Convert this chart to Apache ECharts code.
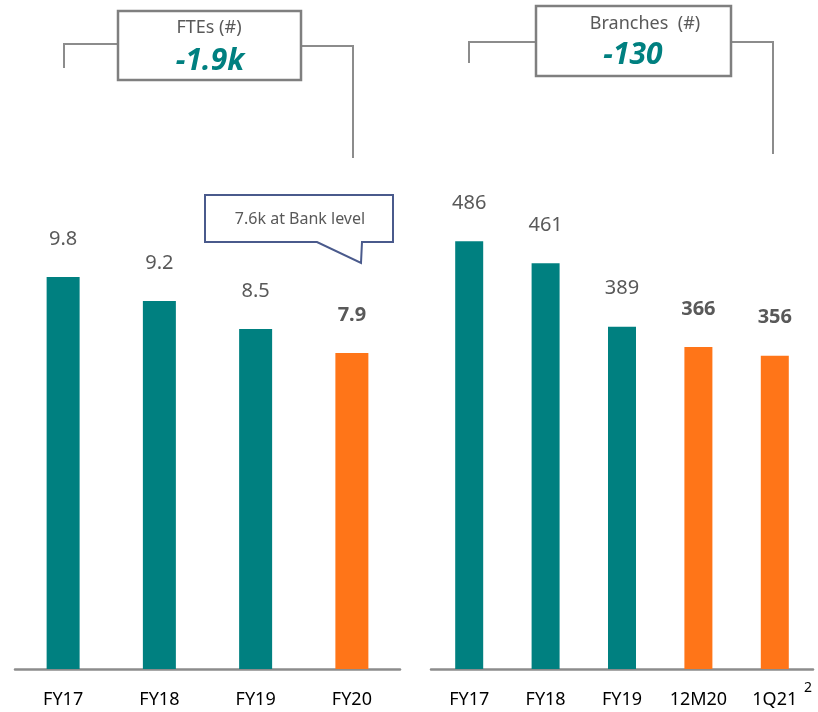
<!DOCTYPE html>
<html>
<head>
<meta charset="utf-8">
<script src="https://cdn.jsdelivr.net/npm/echarts@6/dist/echarts.min.js"></script>
<style>
html,body{margin:0;padding:0;background:#fff;}
#chart{width:818px;height:712px;}
</style>
</head>
<body>
<div id="chart"></div>
<script>
// ---- data ----
const fteCategories = ['FY17', 'FY18', 'FY19', 'FY20'];
const fteValues = [9.8, 9.2, 8.5, 7.9];
const fteHighlight = [false, false, false, true];

const branchCategories = ['FY17', 'FY18', 'FY19', '12M20', '1Q21'];
const branchValues = [486, 461, 389, 366, 356];
const branchHighlight = [false, false, false, true, true];

const fteTitle = 'FTEs (#)';
const fteDelta = '-1.9k';
const branchTitle = 'Branches  (#)';
const branchDelta = '-130';
const calloutText = '7.6k at Bank level';
const footnoteMark = '2';

// ---- style ----
const TEAL = '#008080';
const ORANGE = '#FF7518';
const GREY_TXT = '#595959';
const FONT = '"Noto Sans", "Open Sans", sans-serif';

function buildData(values, highlight) {
  return values.map((v, i) => ({
    value: v,
    itemStyle: { color: highlight[i] ? ORANGE : TEAL },
    label: { fontWeight: highlight[i] ? 'bold' : 'normal' }
  }));
}

const chart = echarts.init(document.getElementById('chart'));

const axisCommon = {
  type: 'category',
  axisLine: { show: true, lineStyle: { color: '#8c8c8c', width: 2.5 } },
  axisTick: { show: false },
  axisLabel: { color: '#000', fontSize: 18, fontFamily: FONT, margin: 22, interval: 0 }
};

const labelCommon = {
  show: true,
  position: 'top',
  distance: 28,
  color: GREY_TXT,
  fontSize: 20,
  fontFamily: FONT
};

const option = {
  animation: false,
  backgroundColor: '#fff',
  grid: [
    { left: 15, width: 385, top: 189, bottom: 43 },
    { left: 431, width: 382, top: 229, bottom: 43 }
  ],
  xAxis: [
    Object.assign({ gridIndex: 0, data: fteCategories }, axisCommon),
    Object.assign({ gridIndex: 1, data: branchCategories }, axisCommon)
  ],
  yAxis: [
    { gridIndex: 0, type: 'value', min: 0, max: 12, show: false },
    { gridIndex: 1, type: 'value', min: 0, max: 500, show: false }
  ],
  series: [
    {
      type: 'bar', xAxisIndex: 0, yAxisIndex: 0, barWidth: 33,
      data: buildData(fteValues, fteHighlight),
      label: labelCommon
    },
    {
      type: 'bar', xAxisIndex: 1, yAxisIndex: 1, barWidth: 28,
      data: buildData(branchValues, branchHighlight),
      label: labelCommon
    }
  ],
  graphic: [
    // FTE bracket
    { type: 'polyline', shape: { points: [[64, 68], [64, 44], [118, 44]] },
      style: { stroke: '#8c8c8c', lineWidth: 2, fill: null } },
    { type: 'polyline', shape: { points: [[301, 46], [353, 46], [353, 158]] },
      style: { stroke: '#8c8c8c', lineWidth: 2, fill: null } },
    { type: 'rect', shape: { x: 118, y: 11, width: 183, height: 69 },
      style: { stroke: '#7f7f7f', lineWidth: 2.5, fill: '#fff' } },
    { type: 'text', x: 209, y: 28,
      style: { text: fteTitle, fill: GREY_TXT, font: '18px ' + FONT, align: 'center', verticalAlign: 'middle' } },
    { type: 'text', x: 210, y: 61,
      style: { text: fteDelta, fill: TEAL, font: 'italic bold 30px ' + FONT, align: 'center', verticalAlign: 'middle' } },

    // Branches bracket
    { type: 'polyline', shape: { points: [[469, 63], [469, 42], [536, 42]] },
      style: { stroke: '#8c8c8c', lineWidth: 2, fill: null } },
    { type: 'polyline', shape: { points: [[731, 42], [773, 42], [773, 154]] },
      style: { stroke: '#8c8c8c', lineWidth: 2, fill: null } },
    { type: 'rect', shape: { x: 536, y: 6, width: 195, height: 70 },
      style: { stroke: '#7f7f7f', lineWidth: 2.5, fill: '#fff' } },
    { type: 'text', x: 645, y: 24,
      style: { text: branchTitle, fill: GREY_TXT, font: '18px ' + FONT, align: 'center', verticalAlign: 'middle' } },
    { type: 'text', x: 633, y: 55,
      style: { text: branchDelta, fill: TEAL, font: 'italic bold 30px ' + FONT, align: 'center', verticalAlign: 'middle' } },

    // Callout
    { type: 'polygon',
      shape: { points: [[205, 195], [393, 195], [393, 242], [362, 242], [361, 263], [317, 242], [205, 242]] },
      style: { stroke: '#4a5a8c', lineWidth: 2, fill: '#fff' } },
    { type: 'text', x: 300, y: 219,
      style: { text: calloutText, fill: GREY_TXT, font: '16px ' + FONT, align: 'center', verticalAlign: 'middle' } },

    // footnote superscript
    { type: 'text', x: 808, y: 688,
      style: { text: footnoteMark, fill: '#000', font: '14px ' + FONT, align: 'center', verticalAlign: 'middle' } }
  ]
};

chart.setOption(option);
</script>
</body>
</html>
